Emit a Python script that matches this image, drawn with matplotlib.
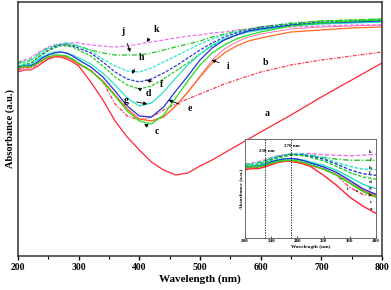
import matplotlib
matplotlib.use("Agg")
import matplotlib.pyplot as plt
from matplotlib.ticker import MultipleLocator

plt.rcParams['font.family'] = ['Liberation Serif', 'DejaVu Serif']
plt.rcParams['font.weight'] = 'bold'

wavelength = [200, 210, 220, 230, 240, 250, 260, 270, 280, 290, 300, 320, 340, 360, 380,
              400, 420, 440, 460, 480, 500, 520, 540, 560, 580, 600, 650, 700, 750, 800]

abs_a = [1.84, 1.86, 1.86, 1.89, 1.93, 1.97, 1.99, 1.99, 1.97, 1.94, 1.90, 1.74, 1.56, 1.35, 1.19,
         1.06, 0.94, 0.86, 0.81, 0.83, 0.90, 0.96, 1.03, 1.10, 1.17, 1.24, 1.41, 1.59, 1.76, 1.93]
abs_b = [1.86, 1.88, 1.88, 1.91, 1.95, 1.98, 2.00, 2.00, 1.99, 1.96, 1.92, 1.86, 1.74, 1.52, 1.40,
         1.36, 1.39, 1.46, 1.52, 1.57, 1.62, 1.67, 1.72, 1.76, 1.80, 1.84, 1.91, 1.96, 2.00, 2.04]
abs_c = [1.88, 1.90, 1.89, 1.92, 1.96, 1.99, 2.01, 2.01, 2.00, 1.97, 1.93, 1.85, 1.74, 1.60, 1.45,
         1.35, 1.32, 1.41, 1.58, 1.75, 1.91, 2.03, 2.11, 2.17, 2.21, 2.24, 2.30, 2.33, 2.35, 2.36]
abs_d = [1.90, 1.92, 1.93, 1.97, 2.01, 2.05, 2.08, 2.10, 2.10, 2.09, 2.06, 2.00, 1.90, 1.79, 1.71,
         1.67, 1.70, 1.77, 1.85, 1.93, 2.02, 2.10, 2.16, 2.21, 2.25, 2.28, 2.32, 2.35, 2.36, 2.37]
abs_e = [1.89, 1.90, 1.90, 1.93, 1.98, 2.01, 2.03, 2.04, 2.03, 2.00, 1.96, 1.89, 1.79, 1.65, 1.50,
         1.40, 1.39, 1.49, 1.65, 1.80, 1.96, 2.08, 2.16, 2.21, 2.25, 2.27, 2.31, 2.33, 2.34, 2.35]
abs_f = [1.89, 1.91, 1.92, 1.97, 2.02, 2.06, 2.09, 2.11, 2.11, 2.10, 2.08, 2.03, 1.94, 1.84, 1.77,
         1.74, 1.77, 1.83, 1.90, 1.98, 2.06, 2.13, 2.19, 2.23, 2.26, 2.29, 2.32, 2.34, 2.35, 2.36]
abs_g = [1.90, 1.91, 1.91, 1.95, 1.99, 2.02, 2.04, 2.04, 2.03, 2.01, 1.98, 1.92, 1.83, 1.71, 1.58,
         1.50, 1.53, 1.64, 1.78, 1.91, 2.02, 2.11, 2.17, 2.21, 2.24, 2.26, 2.30, 2.32, 2.33, 2.34]
abs_h = [1.92, 1.94, 1.95, 1.99, 2.04, 2.08, 2.10, 2.12, 2.13, 2.12, 2.10, 2.05, 1.97, 1.90, 1.85,
         1.84, 1.88, 1.94, 2.00, 2.06, 2.12, 2.17, 2.21, 2.24, 2.26, 2.28, 2.31, 2.33, 2.34, 2.34]
abs_i = [1.87, 1.89, 1.89, 1.92, 1.96, 1.99, 2.00, 2.00, 1.99, 1.96, 1.92, 1.85, 1.75, 1.61, 1.47,
         1.37, 1.35, 1.39, 1.50, 1.64, 1.79, 1.93, 2.03, 2.10, 2.15, 2.18, 2.24, 2.26, 2.28, 2.29]
abs_j = [1.93, 1.95, 1.96, 2.00, 2.05, 2.08, 2.10, 2.12, 2.12, 2.11, 2.10, 2.06, 2.03, 2.01, 2.01,
         2.01, 2.03, 2.06, 2.09, 2.12, 2.15, 2.19, 2.22, 2.25, 2.27, 2.29, 2.33, 2.35, 2.36, 2.37]
abs_k = [1.94, 1.96, 1.98, 2.02, 2.06, 2.09, 2.11, 2.12, 2.13, 2.13, 2.13, 2.11, 2.10, 2.09, 2.10,
         2.12, 2.14, 2.16, 2.18, 2.20, 2.21, 2.23, 2.24, 2.26, 2.27, 2.28, 2.29, 2.30, 2.31, 2.31]
abs_pink = [1.87, 1.89, 1.89, 1.92, 1.96, 1.99, 2.00, 2.00, 1.99, 1.96, 1.92, 1.85, 1.75, 1.61, 1.47,
            1.37, 1.35, 1.39, 1.50, 1.64, 1.80, 1.96, 2.07, 2.14, 2.19, 2.22, 2.27, 2.29, 2.30, 2.31]

series = [
    ('pink', abs_pink, '#ff6fa8', '-'),
    ('a', abs_a, '#ff2436', '-'),
    ('b', abs_b, '#ff3a4a', (0, (3, 1.2, 1, 1.2))),
    ('k', abs_k, '#f070f0', (0, (3, 1.5))),
    ('j', abs_j, '#22c822', (0, (4, 1.5, 1, 1.5))),
    ('h', abs_h, '#25e6c8', (0, (2.5, 1.2))),
    ('f', abs_f, '#2a3ad8', (0, (2.5, 1.2))),
    ('d', abs_d, '#20d020', (0, (2.5, 1.2))),
    ('g', abs_g, '#25e6c8', '-'),
    ('i', abs_i, '#ff6a1f', '-'),
    ('e', abs_e, '#2432dc', '-'),
    ('c', abs_c, '#22dd22', '-'),
]

# label positions (text xy, arrow tip or None)
main_labels = [
    ('a', (611, 1.43), None),
    ('b', (608, 1.94), None),
    ('c', (428, 1.25), (408, 1.32)),
    ('d', (415, 1.63), (397, 1.68)),
    ('e', (483, 1.48), (448, 1.56)),
    ('f', (437, 1.72), (412, 1.76)),
    ('g', (378, 1.56), (413, 1.52)),
    ('h', (403, 1.99), (388, 1.82)),
    ('i', (547, 1.90), (519, 1.96)),
    ('j', (373, 2.25), (385, 2.04)),
    ('k', (428, 2.27), (412, 2.14)),
]

inset_labels = [
    ('k', (391, 2.16)), ('j', (391, 2.03)), ('h', (391, 1.87)), ('f', (391, 1.78)),
    ('d', (391, 1.62)), ('g', (391, 1.51)), ('b', (391, 1.39)), ('c', (392, 1.26)),
    ('a', (392, 1.14)), ('i', (357, 1.50)), ('e', (371, 1.46)),
]
marker_lines = [230, 270]
marker_text = ['230 nm', '270 nm']

fig = plt.figure(figsize=(3.91, 2.90), dpi=100)
ax = fig.add_axes([18/391, 1-256/290, (382-18)/391, (256-2)/290])

for name, vals, col, ls in series:
    lw = 0.7 if name == 'pink' else 0.9
    ax.plot(wavelength, vals, color=col, ls=ls, lw=lw)

ax.set_xlim(200, 800)
ax.set_ylim(0, 2.54)
ax.xaxis.set_major_locator(MultipleLocator(100))
ax.xaxis.set_minor_locator(MultipleLocator(50))
ax.set_yticks([])
ax.tick_params(axis='x', which='major', direction='out', length=3, width=1, labelsize=7, pad=2)
ax.tick_params(axis='x', which='minor', direction='out', length=2, width=0.8)
for lab in ax.get_xticklabels():
    lab.set_fontweight('bold')
for sp in ax.spines.values():
    sp.set_linewidth(1.1)
    sp.set_color('#333333')
ax.set_xlabel('Wavelength (nm)', fontsize=8, fontweight='bold', labelpad=2)
ax.set_ylabel('Absorbance (a.u.)', fontsize=7.5, fontweight='bold', labelpad=2)

for name, txy, tip in main_labels:
    if tip is None:
        ax.text(txy[0], txy[1], name, fontsize=7, fontweight='bold', ha='center', va='center')
    else:
        ax.annotate(name, xy=tip, xytext=txy, fontsize=7, fontweight='bold',
                    ha='center', va='center',
                    arrowprops=dict(arrowstyle='-|>', lw=0.6, color='black',
                                    mutation_scale=5, shrinkA=4, shrinkB=0))

# inset
ins = fig.add_axes([245/391, 1-238/290, (376-245)/391, (238-139)/290])
for name, vals, col, ls in series:
    ins.plot(wavelength, vals, color=col, ls=ls, lw=1.0)
ins.set_xlim(200, 400)
ins.set_ylim(0.62, 2.39)
ins.set_xticks([200, 240, 280, 320, 360, 400])
ins.set_yticks([])
ins.tick_params(axis='x', direction='in', length=1.5, width=0.5, labelsize=3.6, pad=1)
for lab in ins.get_xticklabels():
    lab.set_fontweight('bold')
for sp in ins.spines.values():
    sp.set_linewidth(0.6)
    sp.set_color('#555555')
ins.set_xlabel('Wavelength (nm)', fontsize=3.8, fontweight='bold', labelpad=1)
ins.set_ylabel('Absorbance (a.u.)', fontsize=3.8, fontweight='bold', labelpad=1.5)
for xv, t in zip(marker_lines, marker_text):
    ins.axvline(xv, color='black', ls=(0, (1.5, 1.5)), lw=0.6)
ins.text(marker_lines[0] + 3, 2.14, marker_text[0], fontsize=3.6, fontweight='bold', ha='center', va='bottom')
ins.text(marker_lines[1] + 2, 2.23, marker_text[1], fontsize=3.6, fontweight='bold', ha='center', va='bottom')
for name, txy in inset_labels:
    ins.text(txy[0], txy[1], name, fontsize=3.6, fontweight='bold', ha='center', va='center')

fig.savefig('out.png', dpi=100)
